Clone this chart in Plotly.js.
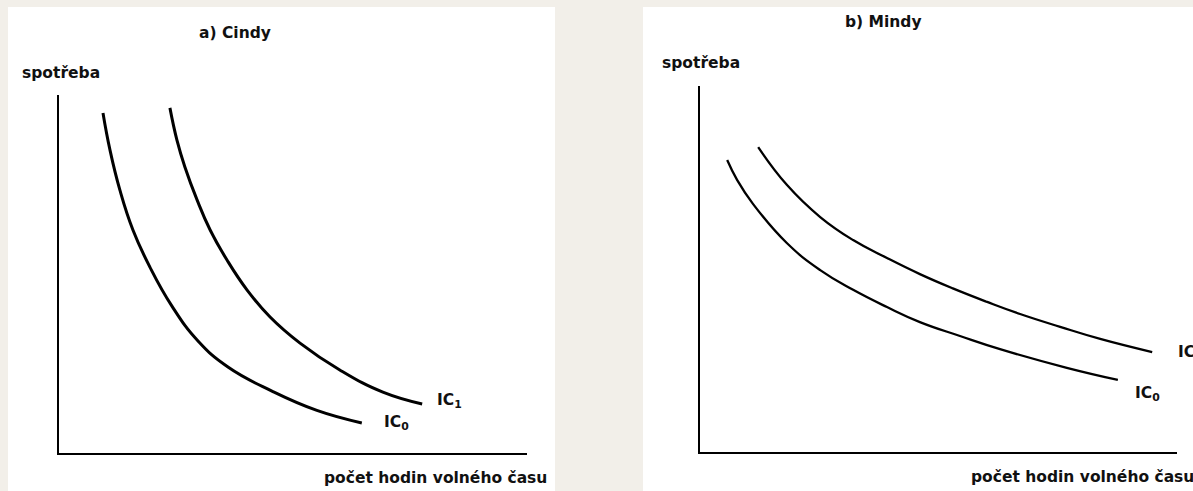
<!DOCTYPE html>
<html>
<head>
<meta charset="utf-8">
<script src="https://cdn.plot.ly/plotly-3.0.1.min.js"></script>
<style>
  html, body { margin: 0; padding: 0; background: #f2efe9; }
  #chart { width: 1193px; height: 491px; }
</style>
</head>
<body>
<div id="chart"></div>
<script>
// a) Cindy - indifference curves (leisure hours vs consumption)
var cindyIC0x = [0.94, 1.09, 1.30, 1.58, 1.94, 2.41, 2.97, 3.61, 4.55, 5.51, 6.47];
var cindyIC0y = [9.50, 8.46, 7.35, 6.23, 5.20, 4.11, 3.13, 2.40, 1.73, 1.19, 0.84];
var cindyIC1x = [2.37, 2.52, 2.69, 2.95, 3.23, 3.59, 4.02, 4.51, 5.15, 6.00, 6.92, 7.76];
var cindyIC1y = [9.64, 8.74, 7.99, 7.07, 6.23, 5.39, 4.55, 3.80, 3.07, 2.32, 1.70, 1.37];

// b) Mindy
var mindyIC0x = [0.57, 0.78, 1.11, 1.82, 2.52, 3.21, 3.92, 4.61, 5.45, 6.29, 7.69, 8.76];
var mindyIC0y = [7.98, 7.43, 6.78, 5.71, 4.97, 4.43, 3.96, 3.55, 3.17, 2.81, 2.30, 1.97];
var mindyIC1x = [1.22, 1.82, 2.52, 3.21, 3.92, 4.61, 5.30, 6.02, 6.71, 7.55, 8.39, 9.48];
var mindyIC1y = [8.33, 7.30, 6.42, 5.79, 5.30, 4.86, 4.47, 4.10, 3.77, 3.42, 3.09, 2.73];

var panelTitles = ["a) Cindy", "b) Mindy"];
var yLabel = "spotřeba";
var xLabel = "počet hodin volného času";
var curveLabels = ["IC<sub>0</sub>", "IC<sub>1</sub>"];

var W = 1193, H = 491;
function px(x) { return x / W; }
function py(y) { return 1 - y / H; }

var font = {family: "DejaVu Sans", size: 15.5, color: "#111", weight: "bold"};

function curve(xs, ys, width, xa, ya) {
  return {x: xs, y: ys, mode: "lines", xaxis: xa, yaxis: ya,
          line: {color: "#000", width: width, shape: "spline", smoothing: 1.3}};
}

var data = [
  curve(cindyIC0x, cindyIC0y, 3, "x", "y"),
  curve(cindyIC1x, cindyIC1y, 3, "x", "y"),
  curve(mindyIC0x, mindyIC0y, 2.3, "x2", "y2"),
  curve(mindyIC1x, mindyIC1y, 2.3, "x2", "y2")
];

function axis(domain, anchor, lw) {
  return {
    domain: domain, anchor: anchor, range: [0, 10], fixedrange: true,
    showline: true, linecolor: "#000", linewidth: lw,
    showgrid: false, zeroline: false, showticklabels: false, ticks: ""
  };
}

function note(text, x, y, anchor) {
  return {text: text, xref: "paper", yref: "paper", x: px(x), y: py(y),
          xanchor: anchor, yanchor: "middle", showarrow: false, font: font};
}

var layout = {
  width: W, height: H,
  margin: {l: 0, r: 0, t: 0, b: 0},
  paper_bgcolor: "#f2efe9",
  plot_bgcolor: "#ffffff",
  showlegend: false,
  xaxis: axis([px(59), px(527)], "y", 2.2),
  yaxis: axis([py(453), py(95)], "x", 2.2),
  xaxis2: axis([px(700), px(1177)], "y2", 2),
  yaxis2: axis([py(452), py(86)], "x2", 2),
  shapes: [
    {type: "rect", xref: "paper", yref: "paper", x0: px(8), x1: px(555), y0: 0, y1: py(7),
     fillcolor: "#ffffff", line: {width: 0}, layer: "below"},
    {type: "rect", xref: "paper", yref: "paper", x0: px(643), x1: 1, y0: 0, y1: py(7),
     fillcolor: "#ffffff", line: {width: 0}, layer: "below"}
  ],
  annotations: [
    note(panelTitles[0], 235, 33, "center"),
    note(panelTitles[1], 883, 22, "center"),
    note(yLabel, 20, 73, "left"),
    note(yLabel, 660, 63, "left"),
    note(xLabel, 322, 478, "left"),
    note(xLabel, 969, 477, "left"),
    {text: curveLabels[1], xref: "x", yref: "y", x: 8.03, y: 1.45, xanchor: "left", yanchor: "middle", showarrow: false, font: font},
    {text: curveLabels[0], xref: "x", yref: "y", x: 6.90, y: 0.84, xanchor: "left", yanchor: "middle", showarrow: false, font: font},
    {text: curveLabels[1], xref: "x2", yref: "y2", x: 9.98, y: 2.70, xanchor: "left", yanchor: "middle", showarrow: false, font: font},
    {text: curveLabels[0], xref: "x2", yref: "y2", x: 9.08, y: 1.58, xanchor: "left", yanchor: "middle", showarrow: false, font: font}
  ]
};

Plotly.newPlot("chart", data, layout, {displayModeBar: false, staticPlot: true});
</script>
</body>
</html>
